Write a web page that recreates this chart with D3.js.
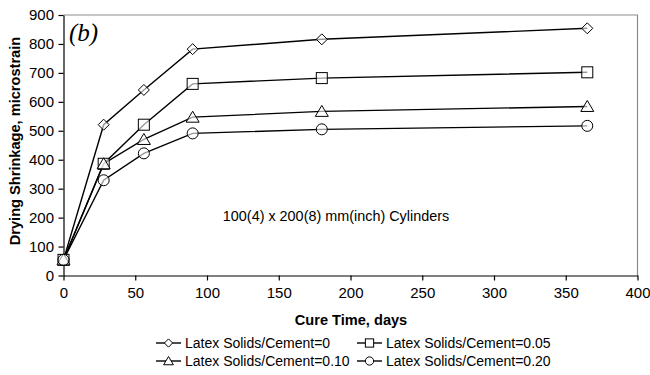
<!DOCTYPE html>
<html><head><meta charset="utf-8">
<script src="https://cdn.jsdelivr.net/npm/d3@7"></script>
<style>body{margin:0;background:#fff}svg{display:block}</style>
</head><body>
<svg id="c" width="650" height="375"></svg>
<script>
const days = [0, 28, 56, 90, 180, 365];
const ratio0   = [54, 521, 641, 782, 816, 854];
const ratio005 = [54, 386, 521, 662, 682, 702];
const ratio010 = [54, 386, 470, 547, 567, 584];
const ratio020 = [54, 329, 422, 491, 505, 517];
const seriesNames = ["Latex Solids/Cement=0", "Latex Solids/Cement=0.05", "Latex Solids/Cement=0.10", "Latex Solids/Cement=0.20"];
const seriesValues = [ratio0, ratio005, ratio010, ratio020];
const seriesSymbols = ["diamond", "square", "triangle", "circle"];
const xTicks = [0, 50, 100, 150, 200, 250, 300, 350, 400];
const yTicks = [0, 100, 200, 300, 400, 500, 600, 700, 800, 900];

const svg = d3.select("#c");
const L = 63.5, R = 637.5, T = 15, B = 275.5;
const x = d3.scaleLinear().domain([0, 400]).range([L, R]);
const y = d3.scaleLinear().domain([0, 900]).range([B, T]);
const font = "Liberation Sans, Arial, sans-serif";

// plot border (top/right gray)
svg.append("path").attr("d", `M${L},${T}H${R}V${B}`).attr("fill", "none").attr("stroke", "#8c8c8c").attr("stroke-width", 1.2);

const xa = svg.append("g").attr("transform", `translate(0,${B})`)
  .call(d3.axisBottom(x).tickValues(xTicks).tickSize(5).tickSizeOuter(0));
const ya = svg.append("g").attr("transform", `translate(${L},0)`)
  .call(d3.axisLeft(y).tickValues(yTicks).tickSize(5).tickSizeOuter(0));
[xa, ya].forEach(a => {
  a.select(".domain").attr("stroke", "#000").attr("stroke-width", 1.2);
  a.selectAll(".tick line").attr("stroke", "#000").attr("stroke-width", 1.2);
  a.selectAll("text").attr("font-family", font).attr("font-size", 15).attr("fill", "#000");
});
xa.selectAll("text").attr("dy", "0.95em");
ya.selectAll("text").attr("dx", "-0.1em");

// symbols
function marker(g, type, cx, cy, s) {
  const k = s || 1;
  if (type === "diamond") {
    g.append("path").attr("d", `M${cx},${cy-5.5*k}L${cx+5.5*k},${cy}L${cx},${cy+5.5*k}L${cx-5.5*k},${cy}Z`);
  } else if (type === "square") {
    g.append("rect").attr("x", cx-5.5*k).attr("y", cy-5.5*k).attr("width", 11*k).attr("height", 11*k);
  } else if (type === "triangle") {
    g.append("path").attr("d", `M${cx},${cy-6*k}L${cx+6.5*k},${cy+5*k}L${cx-6.5*k},${cy+5*k}Z`);
  } else {
    g.append("circle").attr("cx", cx).attr("cy", cy).attr("r", 5.5*k);
  }
}

const line = d3.line().x(d => x(d[0])).y(d => y(d[1]));
seriesValues.forEach((vals, i) => {
  const pts = days.map((d, j) => [d, vals[j]]);
  svg.append("path").datum(pts).attr("d", line).attr("fill", "none").attr("stroke", "#000").attr("stroke-width", 1.4);
});
seriesValues.forEach((vals, i) => {
  const g = svg.append("g").attr("fill", "#fff").attr("fill-opacity", 0.6).attr("stroke", "#000").attr("stroke-width", 1);
  days.forEach((d, j) => marker(g, seriesSymbols[i], x(d), y(vals[j])));
});

// labels
svg.append("text").attr("x", 69).attr("y", 41).attr("font-family", "Liberation Serif, Times New Roman, serif")
  .attr("font-style", "italic").attr("font-size", 25).text("(b)");
svg.append("text").attr("x", 336).attr("y", 221).attr("text-anchor", "middle").attr("font-family", font)
  .attr("font-size", 14.4).text("100(4) x 200(8) mm(inch) Cylinders");
svg.append("text").attr("x", 351).attr("y", 325).attr("text-anchor", "middle").attr("font-family", font)
  .attr("font-size", 14.6).attr("font-weight", "bold").text("Cure Time, days");
svg.append("text").attr("transform", "translate(20,141) rotate(-90)").attr("text-anchor", "middle").attr("font-family", font)
  .attr("font-size", 14.6).attr("font-weight", "bold").text("Drying Shrinkage, microstrain");

// legend
const legPos = [[156, 343], [357, 343], [156, 361], [357, 361]];
seriesNames.forEach((n, i) => {
  const [lx, ly] = legPos[i];
  const g = svg.append("g");
  g.append("line").attr("x1", lx).attr("x2", lx + 25).attr("y1", ly).attr("y2", ly).attr("stroke", "#000").attr("stroke-width", 1.4);
  const mg = g.append("g").attr("fill", "#fff").attr("stroke", "#000").attr("stroke-width", 1);
  marker(mg, seriesSymbols[i], lx + 12.5, ly, 0.75);
  g.append("text").attr("x", lx + 29).attr("y", ly + 5).attr("font-family", font).attr("font-size", 14).text(n);
});
</script>
</body></html>
